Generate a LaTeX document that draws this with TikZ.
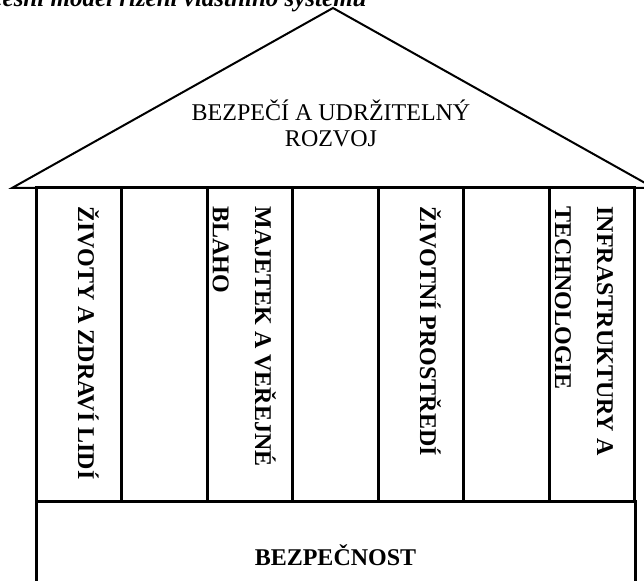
\documentclass[tikz,border=0pt]{standalone}
\usepackage{fontspec}
\setmainfont{Liberation Serif}
\usetikzlibrary{calc}

\tikzset{
  wall/.style={line width=1.5pt},
  roofline/.style={line width=1pt},
  pillartext/.style={rotate=-90,anchor=base west,inner sep=0pt,align=left,
    font=\bfseries\fontsize{12}{21}\selectfont},
}

\begin{document}
\begin{tikzpicture}[x=0.5pt,y=-0.5pt]
\useasboundingbox (0,0) rectangle (644,581);

\node[anchor=base east,inner sep=0pt,font=\bfseries\itshape\fontsize{12.5}{15}\selectfont] (title) at (367,7) {Procesní model řízení vlastního systému};

% roof
\coordinate (L) at (12,188);
\coordinate (T) at (333,8);
\coordinate (R) at (654,188);
\draw[roofline] (L) -- (T) -- (R) -- cycle;

\node[anchor=base,inner sep=0pt,align=center,font=\fontsize{12}{13}\selectfont] (roof) at (331,147) {BEZPEČÍ A UDRŽITELNÝ\\ROZVOJ};

% pillars
\foreach \i in {0,...,6}
  \draw[wall] ({36+\i*85.57},188) rectangle ({36+(\i+1)*85.57},502);

\node[pillartext] (lives) at (78,206) {ŽIVOTY A ZDRAVÍ LIDÍ};
\node[pillartext] (property) at (213,206) {MAJETEK A VEŘEJNÉ\\BLAHO};
\node[pillartext] (environment) at (420,206) {ŽIVOTNÍ PROSTŘEDÍ};
\node[pillartext] (infra) at (555,206) {INFRASTRUKTURY A\\TECHNOLOGIE};

% base
\draw[wall] (36,590) -- (36,502) -- (635,502) -- (635,590);
\node[anchor=base,inner sep=0pt,font=\bfseries\fontsize{12}{14}\selectfont] (safety) at (335.5,566) {BEZPEČNOST};

\end{tikzpicture}
\end{document}
